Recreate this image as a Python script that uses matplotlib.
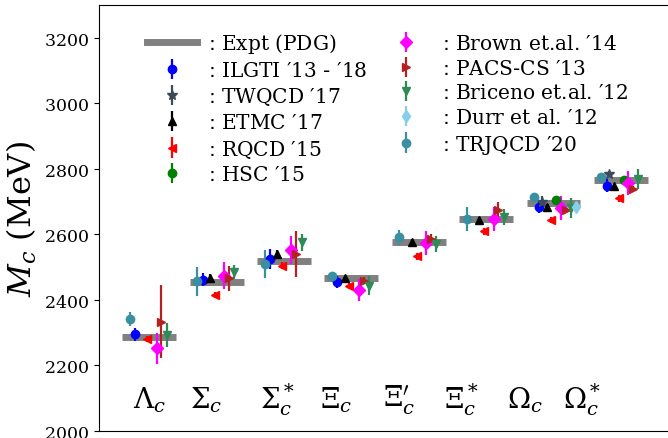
import re
import matplotlib
matplotlib.use('Agg')
import matplotlib.pyplot as plt
from matplotlib.lines import Line2D
from matplotlib.ticker import FuncFormatter
import numpy as np

plt.rcParams['mathtext.fontset'] = 'dejavuserif'


def mt(s):
    # serif face via mathtext; punctuation (. -) and the colon stay plain text
    out = []
    for tok in re.split(r'([.\-])', s):
        if tok in ('.', '-'):
            out.append(tok)
        elif tok:
            lead = ' ' if tok.startswith(' ') else ''
            trail = ' ' if tok.endswith(' ') else ''
            core = tok.strip().replace(' ', r'\ ')
            out.append(lead + (r'$\mathrm{' + core + '}$' if core else '') + trail)
    return ': ' + ''.join(out)


nan = np.nan

# baryons and experiment (PDG)
baryons = [r'$\Lambda_c$', r'$\Sigma_c$', r'$\Sigma_c^*$', r'$\Xi_c$',
           r"$\Xi_c'$", r'$\Xi_c^*$', r'$\Omega_c$', r'$\Omega_c^*$']
expt = [2286.5, 2453.5, 2518.4, 2467.9, 2578.4, 2645.9, 2695.2, 2765.9]

# lattice results (MeV), nan = not computed
ilgti = [2295, 2462, 2525, 2456, nan, nan, 2683, 2749]
ilgti_err = [20, 20, 30, 18, nan, nan, 19, 19]
twqcd = [nan, nan, nan, nan, nan, nan, 2700, 2785]
twqcd_err = [nan, nan, nan, nan, nan, nan, 18, 8]
etmc = [nan, 2466, 2540, 2466, 2578, 2644, 2685, 2747]
etmc_err = [nan, 12, 12, 8, 8, 8, 8, 8]
rqcd = [2281, 2415, 2505, 2442, 2533, 2609, 2644, 2710]
rqcd_err = [10, 10, 10, 10, 10, 10, 10, 10]
hsc = [nan, nan, nan, nan, nan, nan, 2704, 2766]
hsc_err = [nan, nan, nan, nan, nan, nan, 8, 8]
brown = [2252, 2474, 2553, 2431, 2574, 2647, 2680, 2756]
brown_err = [48, 41, 42, 33, 37, 37, 37, 37]
pacs = [2334, 2466, 2540, 2459, 2586, 2675, 2675, 2739]
pacs_err = [112, 39, 69, 10, 15, 24, 10, 10]
briceno = [2293, 2485, 2576, 2444, 2571, 2654, 2680, 2769]
briceno_err = [37, 21, 26, 30, 24, 24, 30, 30]
durr = [nan, nan, nan, nan, nan, nan, 2683, nan]
durr_err = [nan, nan, nan, nan, nan, nan, 16, nan]
trjqcd = [2342, 2457, 2510, 2474, 2591, 2647, 2713, 2775]
trjqcd_err = [22, 45, 44, 8, 24, 37, 10, 10]

series = [
    (ilgti, ilgti_err, "ILGTI ′13 - ′18", 'o', 'blue', -0.21),
    (twqcd, twqcd_err, "TWQCD ′17", '*', '#3d4b59', -0.17),
    (etmc, etmc_err, "ETMC ′17", '^', 'black', -0.10),
    (rqcd, rqcd_err, "RQCD ′15", '<', 'red', -0.03),
    (hsc, hsc_err, "HSC ′15", 'o', 'green', 0.04),
    (brown, brown_err, "Brown et.al. ′14", 'D', 'magenta', 0.11),
    (pacs, pacs_err, "PACS-CS ′13", '>', '#b22222', 0.18),
    (briceno, briceno_err, "Briceno et.al. ′12", 'v', 'seagreen', 0.26),
    (durr, durr_err, "Durr et al. ′12", 'd', 'skyblue', 0.33),
    (trjqcd, trjqcd_err, "TRJQCD ′20", 'o', '#3a8fa0', -0.29),
]

fig = plt.figure(figsize=(6.68, 4.39), dpi=100)
ax = fig.add_axes([0.148, 0.016, 0.857, 0.970])

x = np.arange(1, len(baryons) + 1)
ax.hlines(expt, x - 0.4, x + 0.4, colors='grey', lw=5, zorder=1)

handles = [Line2D([], [], color='grey', lw=5)]
labels = [mt("Expt (PDG)")]
for vals, errs, lab, mk, col, off in series:
    vals = np.array(vals, dtype=float)
    errs = np.array(errs, dtype=float)
    m = ~np.isnan(vals)
    h = ax.errorbar(x[m] + off, vals[m], yerr=errs[m], fmt=mk, color=col,
                    ms=7.5 if mk == '*' else 6, elinewidth=1.6, capsize=0, zorder=3)
    handles.append(h)
    labels.append(mt(lab))

ax.legend(handles, labels, fontsize=14.5,
          ncol=2, frameon=False, loc='upper left',
          bbox_to_anchor=(139 / 668, 1 - 24 / 439), bbox_transform=fig.transFigure,
          borderaxespad=0, handlelength=2.5, handletextpad=0.55,
          columnspacing=0.65, labelspacing=0.28)

label_x = [1.0, 1.85, 2.9, 3.78, 4.71, 5.63, 6.57, 7.43]
for lx, b in zip(label_x, baryons):
    ax.text(lx, 2098, b, ha='center', va='center', fontsize=20)

ax.set_xlim(0.25, 8.75)
ax.set_ylim(2000, 3300)
ax.set_xticks([])
ax.set_yticks(np.arange(2000, 3201, 200))
ax.yaxis.set_major_formatter(FuncFormatter(lambda v, pos: r'$\mathrm{%d}$' % v))
ax.tick_params(axis='y', labelsize=12.5)
ax.set_ylabel(r'$M_c\ \mathrm{(MeV)}$', fontsize=23)

fig.savefig('out.png', dpi=100)
